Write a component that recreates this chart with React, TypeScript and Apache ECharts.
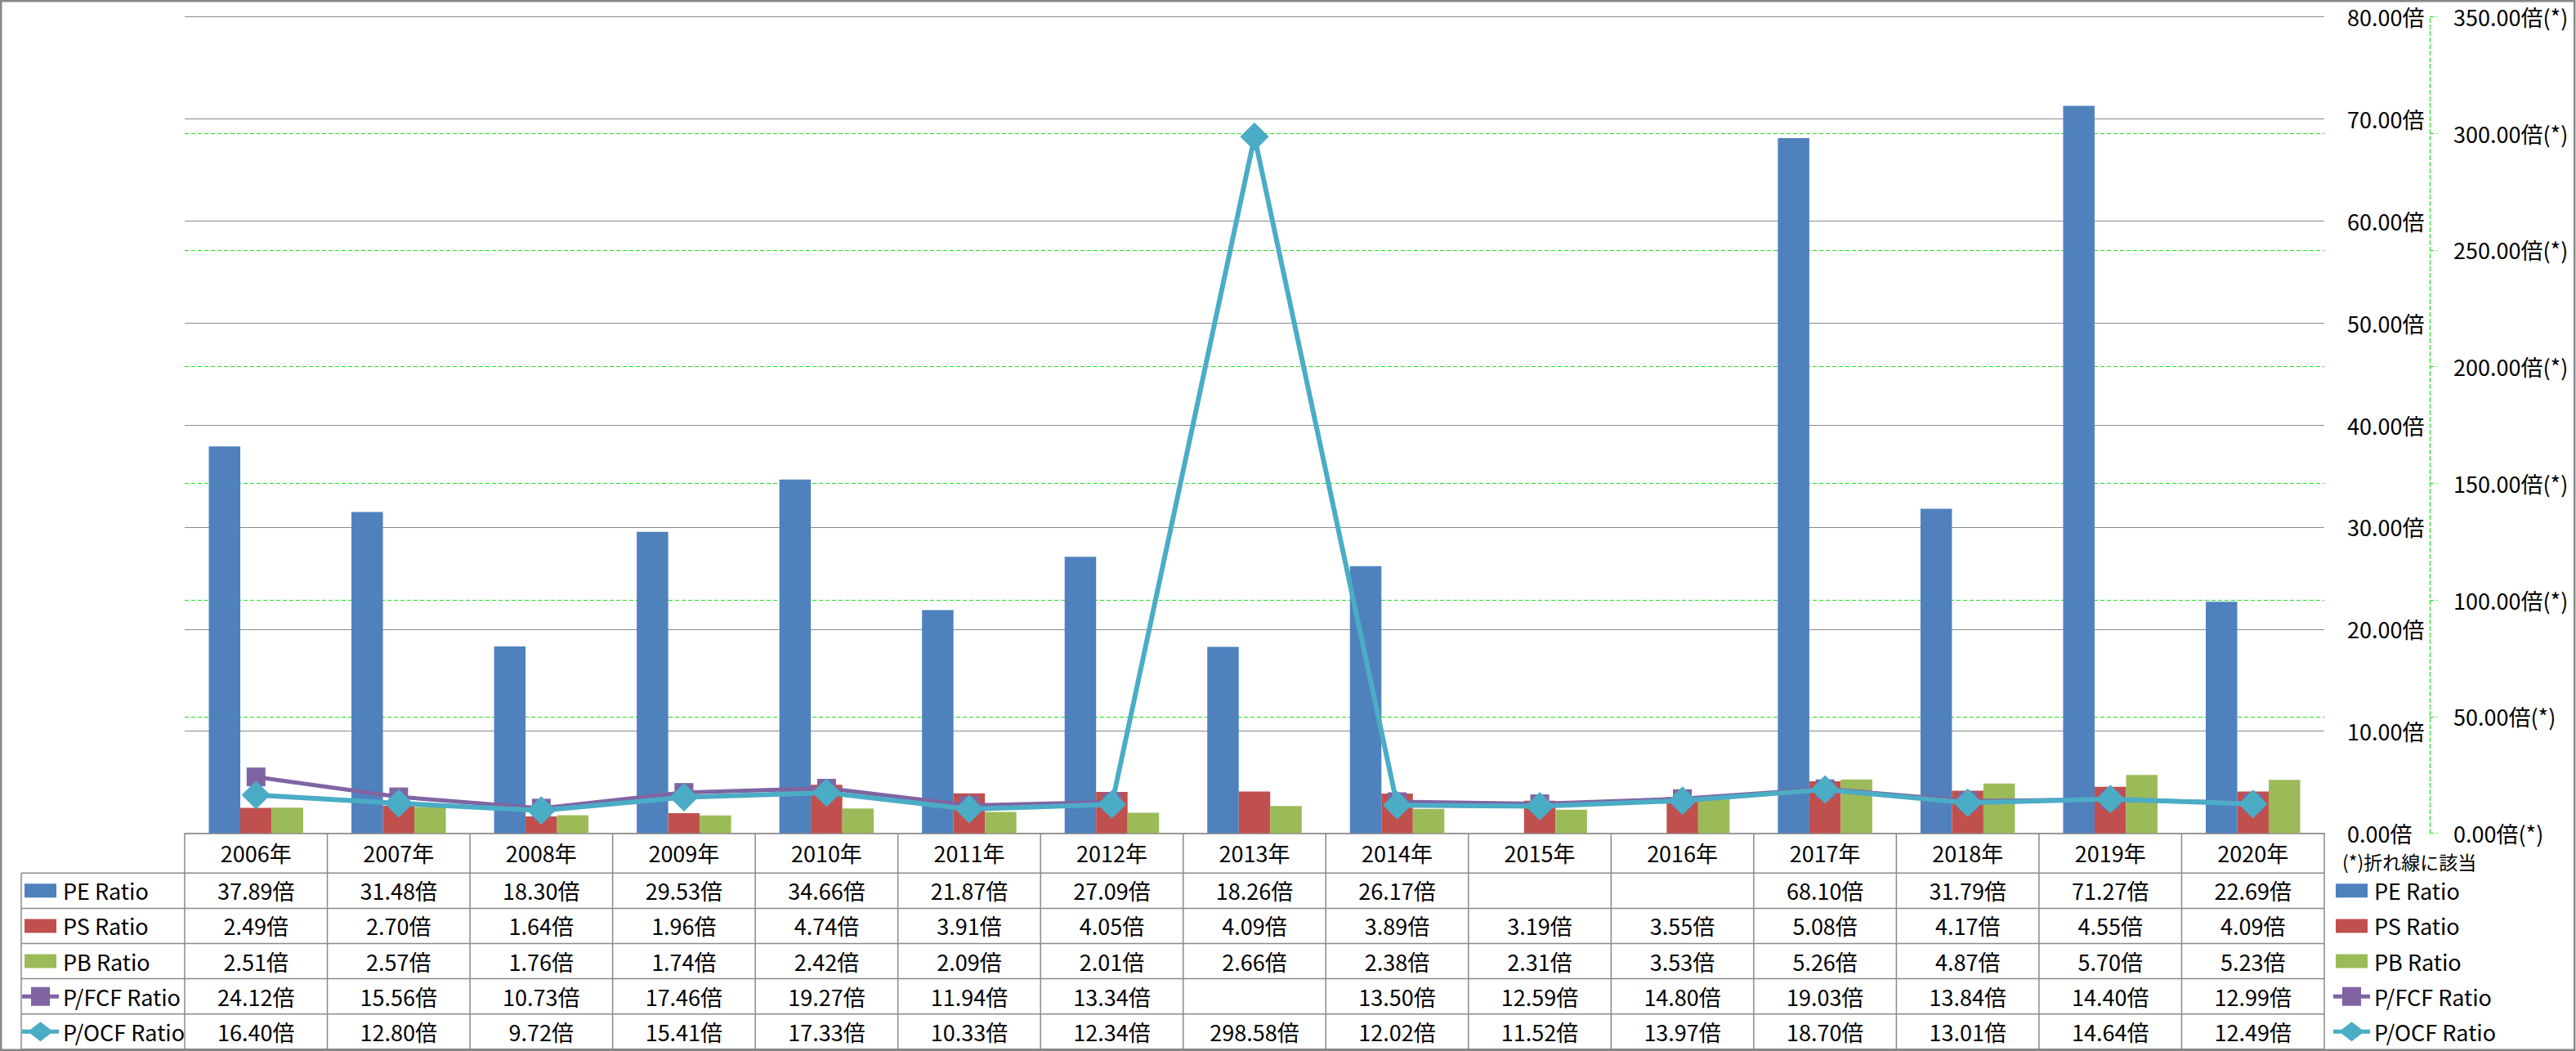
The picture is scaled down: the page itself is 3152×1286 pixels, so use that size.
import React, { useEffect, useRef } from 'react';
import * as echarts from 'echarts';

const years = ['2006年', '2007年', '2008年', '2009年', '2010年', '2011年', '2012年', '2013年', '2014年', '2015年', '2016年', '2017年', '2018年', '2019年', '2020年'];
const peRatio = [37.89, 31.48, 18.30, 29.53, 34.66, 21.87, 27.09, 18.26, 26.17, null, null, 68.10, 31.79, 71.27, 22.69];
const psRatio = [2.49, 2.70, 1.64, 1.96, 4.74, 3.91, 4.05, 4.09, 3.89, 3.19, 3.55, 5.08, 4.17, 4.55, 4.09];
const pbRatio = [2.51, 2.57, 1.76, 1.74, 2.42, 2.09, 2.01, 2.66, 2.38, 2.31, 3.53, 5.26, 4.87, 5.70, 5.23];
const pfcfRatio = [24.12, 15.56, 10.73, 17.46, 19.27, 11.94, 13.34, null, 13.50, 12.59, 14.80, 19.03, 13.84, 14.40, 12.99];
const pocfRatio = [16.40, 12.80, 9.72, 15.41, 17.33, 10.33, 12.34, 298.58, 12.02, 11.52, 13.97, 18.70, 13.01, 14.64, 12.49];
const seriesNames = ['PE Ratio', 'PS Ratio', 'PB Ratio', 'P/FCF Ratio', 'P/OCF Ratio'];
const seriesColors = ['#4F81BD', '#C0504D', '#9BBB59', '#8064A2', '#4BACC6'];
const leftAxis = { min: 0, max: 80, interval: 10 };
const rightAxis = { min: 0, max: 350, interval: 50 };
const noteText = '(*)折れ線に該当';

const FONT = '"Noto Sans CJK JP", "Noto Sans", sans-serif';
const GRID_GREY = '#8a8a8a';
const GREEN = '#22dd22';

// legend key shapes in a 45x24 box (corner moveTo's keep the box)
const BOX = 'M0,0M45,24';
const ICON_BAR = 'path://' + BOX + 'M3,3.5L42,3.5L42,20.5L3,20.5Z';
const ICON_SQUARE_LINE = 'path://' + BOX + 'M0,9.5L45,9.5L45,14.5L0,14.5ZM11,0.5L34,0.5L34,23.5L11,23.5Z';
const ICON_DIAMOND_LINE = 'path://' + BOX + 'M0,9.5L45,9.5L45,14.5L0,14.5ZM22.5,0L38,12L22.5,24L7,12Z';
const legendIcons = [ICON_BAR, ICON_BAR, ICON_BAR, ICON_SQUARE_LINE, ICON_DIAMOND_LINE];

export default function App() {
  const ref = useRef<HTMLDivElement>(null);

  useEffect(() => {
    const chart = echarts.init(ref.current!, null, { renderer: 'svg' });
    const rowTop = 1068.3;
    const rowH = 43.1;
    const legendItemH = 30;
    const legendCommon = {
      orient: 'vertical',
      top: rowTop + (rowH - legendItemH) / 2,
      itemWidth: 45,
      itemHeight: 24,
      itemGap: rowH - legendItemH,
      padding: 0,
      selectedMode: false,
      textStyle: { fontSize: 27, fontFamily: FONT, color: '#000', lineHeight: legendItemH },
      data: seriesNames.map((name, i) => ({ name, icon: legendIcons[i] })),
    };
    const allData = [peRatio, psRatio, pbRatio, pfcfRatio, pocfRatio];

    chart.setOption({
      animation: false,
      backgroundColor: '#fff',
      textStyle: { fontFamily: FONT },
      grid: { left: 226, right: 308, top: 20.5, bottom: 266.5, containLabel: false },
      legend: [
        { ...legendCommon, left: 27 },
        { ...legendCommon, left: 2855 },
      ],
      xAxis: {
        type: 'category',
        data: years,
        axisLine: { show: true, lineStyle: { color: GRID_GREY, width: 1.5 } },
        axisTick: { show: false },
        axisLabel: { fontSize: 27, color: '#000', fontFamily: FONT, margin: 10 },
      },
      yAxis: [
        {
          type: 'value',
          position: 'right',
          z: 1,
          min: leftAxis.min,
          max: leftAxis.max,
          interval: leftAxis.interval,
          axisLine: { show: false },
          axisTick: { show: false },
          splitLine: { show: true, lineStyle: { color: GRID_GREY, width: 1.2 } },
          axisLabel: {
            fontSize: 27,
            color: '#000',
            fontFamily: FONT,
            margin: 28,
            formatter: (v: number) => v.toFixed(2) + '倍',
          },
        },
        {
          type: 'value',
          position: 'right',
          offset: 129,
          z: 0,
          min: rightAxis.min,
          max: rightAxis.max,
          interval: rightAxis.interval,
          axisLine: { show: true, lineStyle: { color: GREEN, width: 1.2, type: [5, 3] } },
          axisTick: { show: true, length: 9, lineStyle: { color: GREEN, width: 1.2, type: [5, 3] } },
          splitLine: { show: true, lineStyle: { color: GREEN, width: 1.2, type: [5, 3] } },
          axisLabel: {
            fontSize: 27,
            color: '#000',
            fontFamily: FONT,
            margin: 29,
            formatter: (v: number) => v.toFixed(2) + '倍(*)',
          },
        },
      ],
      series: [
        { name: seriesNames[0], type: 'bar', yAxisIndex: 0, data: peRatio, barWidth: 38.5, barGap: '0%', itemStyle: { color: seriesColors[0] } },
        { name: seriesNames[1], type: 'bar', yAxisIndex: 0, data: psRatio, barWidth: 38.5, barGap: '0%', itemStyle: { color: seriesColors[1] } },
        { name: seriesNames[2], type: 'bar', yAxisIndex: 0, data: pbRatio, barWidth: 38.5, barGap: '0%', itemStyle: { color: seriesColors[2] } },
        {
          name: seriesNames[3], type: 'line', yAxisIndex: 1, data: pfcfRatio, connectNulls: false,
          symbol: 'rect', symbolSize: 23, z: 3,
          lineStyle: { color: seriesColors[3], width: 5 },
          itemStyle: { color: seriesColors[3] },
        },
        {
          name: seriesNames[4], type: 'line', yAxisIndex: 1, data: pocfRatio, connectNulls: false,
          symbol: 'diamond', symbolSize: 35, z: 4,
          lineStyle: { color: seriesColors[4], width: 6 },
          itemStyle: { color: seriesColors[4] },
        },
      ],
    });

    const c0 = chart.convertToPixel({ xAxisIndex: 0 }, 0) as number;
    const c1 = chart.convertToPixel({ xAxisIndex: 0 }, 1) as number;
    const cw = c1 - c0;
    const yBase = chart.convertToPixel({ yAxisIndex: 0 }, 0) as number;
    const tableBottom = rowTop + rowH * 5;
    const labelLeft = 26;
    const n = years.length;
    const xLeft = c0 - cw / 2;
    const xRight = c0 + cw * (n - 0.5);

    const els: any[] = [];
    els.push({
      type: 'rect', silent: true, z: 100,
      shape: { x: 1.2, y: 1.2, width: 3149, height: 1283.6 },
      style: { fill: 'none', stroke: '#878787', lineWidth: 2.5 },
    });
    for (let k = 0; k <= 5; k++) {
      const y = rowTop + rowH * k;
      els.push({ type: 'line', silent: true, shape: { x1: labelLeft, y1: y, x2: xRight, y2: y }, style: { stroke: GRID_GREY, lineWidth: 1.5 } });
    }
    els.push({ type: 'line', silent: true, shape: { x1: labelLeft, y1: rowTop, x2: labelLeft, y2: tableBottom }, style: { stroke: GRID_GREY, lineWidth: 1.5 } });
    for (let i = 0; i <= n; i++) {
      const x = xLeft + cw * i;
      els.push({ type: 'line', silent: true, shape: { x1: x, y1: yBase, x2: x, y2: tableBottom }, style: { stroke: GRID_GREY, lineWidth: 1.5 } });
    }
    allData.forEach((arr, r) => {
      arr.forEach((v, i) => {
        if (v === null || v === undefined) return;
        els.push({
          type: 'text', silent: true,
          x: c0 + cw * i, y: rowTop + rowH * (r + 0.5),
          style: {
            text: (v as number).toFixed(2) + '倍',
            fill: '#000', fontSize: 27, fontFamily: FONT,
            textAlign: 'center', textVerticalAlign: 'middle', verticalAlign: 'middle',
          },
        });
      });
    });
    els.push({
      type: 'text', silent: true,
      x: 2866, y: 1054,
      style: {
        text: noteText, fill: '#000', fontSize: 23, fontFamily: FONT,
        textAlign: 'left', textVerticalAlign: 'middle', verticalAlign: 'middle',
      },
    });

    chart.setOption({ graphic: { elements: els } });

    return () => chart.dispose();
  }, []);

  return <div ref={ref} style={{ position: 'absolute', left: 0, top: 0, width: 3152, height: 1286 }} />;
}
